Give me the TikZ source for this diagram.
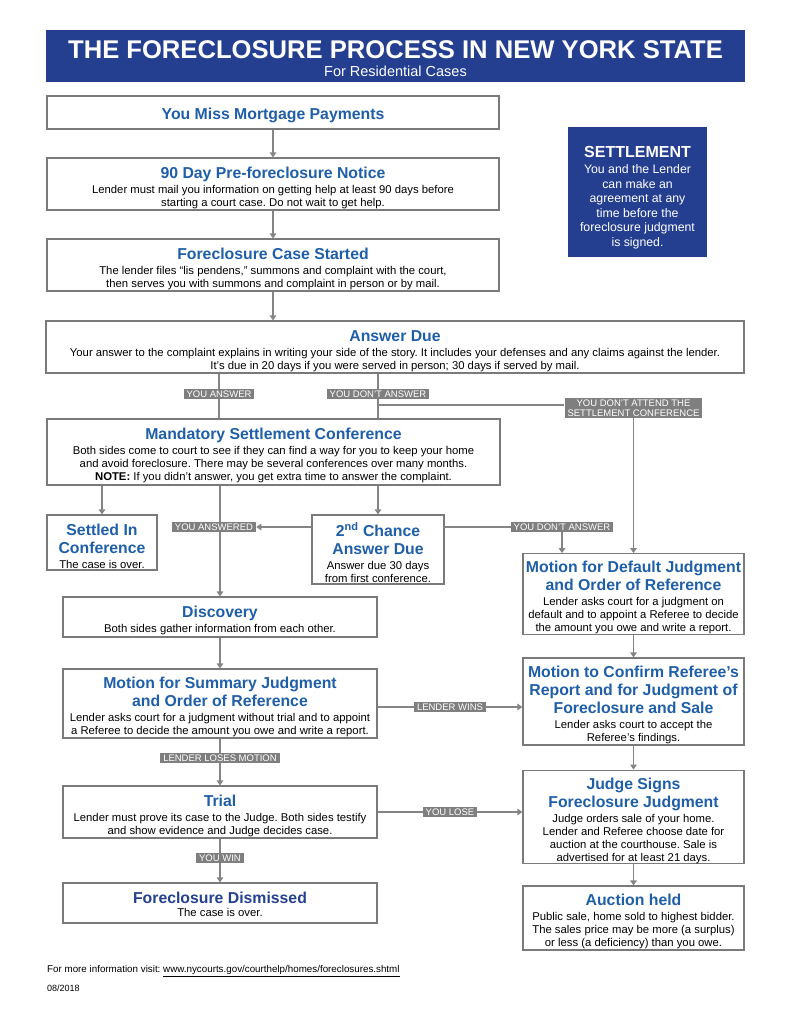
\documentclass[tikz,border=0pt]{standalone}
\usepackage{fontspec}
\setmainfont{Liberation Sans}
\newfontfamily\bodyfont{Liberation Sans}
\newfontfamily\headfont{Liberation Sans}
\usetikzlibrary{arrows.meta,backgrounds}
\definecolor{banner}{HTML}{243F8F}
\definecolor{headblue}{HTML}{1F5FA8}
\definecolor{darkblue}{HTML}{25408F}
\definecolor{bordergray}{HTML}{7A7A7A}
\definecolor{linegray}{HTML}{858585}
\definecolor{lblgray}{HTML}{7F7F7F}
\frenchspacing
\newcommand{\hd}{\headfont\bfseries\fontsize{15.8}{18}\selectfont\color{headblue}}
\newcommand{\bd}{\bodyfont\fontsize{11.3}{13}\selectfont\color{black}}
\newcommand{\bx}[2]{{\hd\rule{0pt}{19.3pt}#1\par}\vskip2pt{\bd #2\par}}
\newcommand{\fixsp}{\centering\frenchspacing\spaceskip=0pt\xspaceskip=0pt\relax}
\begin{document}
\begin{tikzpicture}[x=1pt,y=-1pt,
  box/.style={draw=bordergray, line width=1.1pt, fill=white, inner sep=0pt,
    execute at begin node=\fixsp},
  lbl/.style={fill=lblgray, text=white, inner xsep=3pt, inner ysep=1.5pt,
    font=\bodyfont\fontsize{9.5}{10.5}\selectfont, align=center},
  conn/.style={draw=linegray, line width=1.3pt},
  arr/.style={conn, -{Triangle[length=5pt,width=6.5pt]}}]
\useasboundingbox (0,0) rectangle (791,1024);

% banner
\node[fill=banner, minimum width=699pt, minimum height=52pt, inner sep=0pt, text width=699pt,
  text=white, execute at begin node=\fixsp] (banner) at (395.5,56)
  {{\headfont\bfseries\fontsize{25.6}{26}\selectfont\rule{0pt}{22.3pt}THE FORECLOSURE PROCESS IN NEW YORK STATE\par}
   {\bodyfont\fontsize{14.5}{18}\selectfont For Residential Cases\par}};

% boxes
\node[box, minimum width=452pt, minimum height=33pt, text width=452pt] (miss) at (273,112.5)
  {{\hd\rule{0pt}{17.5pt}You Miss Mortgage Payments\par}};
\node[box, minimum width=452pt, minimum height=52pt, text width=452pt] (notice) at (273,184)
  {\bx{90 Day Pre-foreclosure Notice}{Lender must mail you information on getting help at least 90 days before\\starting a court case. Do not wait to get help.}};
\node[box, minimum width=452pt, minimum height=52pt, text width=452pt] (started) at (273,265)
  {\bx{Foreclosure Case Started}{The lender files “lis pendens,” summons and complaint with the court,\\then serves you with summons and complaint in person or by mail.}};
\node[box, minimum width=698pt, minimum height=52pt, text width=698pt] (answer) at (395,347)
  {\bx{Answer Due}{Your answer to the complaint explains in writing your side of the story. It includes your defenses and any claims against the lender.\\It’s due in 20 days if you were served in person; 30 days if served by mail.}};
\node[fill=banner, minimum width=139pt, minimum height=130pt, inner sep=0pt, text width=139pt,
  text=white, execute at begin node=\fixsp] (settle) at (637.5,192)
  {{\headfont\bfseries\fontsize{16}{18}\selectfont\rule{0pt}{21.6pt}SETTLEMENT\par}\vskip2pt
   {\bodyfont\fontsize{12.3}{14.5}\selectfont You and the Lender\\can make an\\agreement at any\\time before the\\foreclosure judgment\\is signed.\par}};
\node[box, minimum width=453pt, minimum height=66pt, text width=453pt] (msc) at (273.5,452)
  {\bx{Mandatory Settlement Conference}{Both sides come to court to see if they can find a way for you to keep your home\\and avoid foreclosure. There may be several conferences over many months.\\\textbf{NOTE:} If you didn’t answer, you get extra time to answer the complaint.}};
\node[box, minimum width=110pt, minimum height=55pt, text width=110pt] (settled) at (102,542.5)
  {\bx{Settled In\\Conference}{The case is over.}};
\node[box, minimum width=132pt, minimum height=69pt, text width=132pt] (second) at (378,549.5)
  {\bx{2\textsuperscript{nd} Chance\\Answer Due}{Answer due 30 days\\from first conference.}};
\node[box, minimum width=221pt, minimum height=80pt, text width=221pt] (default) at (633.5,594)
  {\bx{Motion for Default Judgment\\and Order of Reference}{Lender asks court for a judgment on\\default and to appoint a Referee to decide\\the amount you owe and write a report.}};
\node[box, minimum width=221pt, minimum height=87pt, text width=221pt] (confirm) at (633.5,701.5)
  {\bx{Motion to Confirm Referee’s\\Report and for Judgment of\\Foreclosure and Sale}{Lender asks court to accept the\\Referee’s findings.}};
\node[box, minimum width=221pt, minimum height=92pt, text width=221pt] (judge) at (633.5,817)
  {\bx{Judge Signs\\Foreclosure Judgment}{Judge orders sale of your home.\\Lender and Referee choose date for\\auction at the courthouse. Sale is\\advertised for at least 21 days.}};
\node[box, minimum width=221pt, minimum height=64pt, text width=221pt] (auction) at (633.5,918)
  {\bx{Auction held}{Public sale, home sold to highest bidder.\\The sales price may be more (a surplus)\\or less (a deficiency) than you owe.}};
\node[box, minimum width=314pt, minimum height=40pt, text width=314pt] (discovery) at (220,617)
  {\bx{Discovery}{Both sides gather information from each other.}};
\node[box, minimum width=314pt, minimum height=69pt, text width=314pt] (summary) at (220,703.5)
  {\bx{Motion for Summary Judgment\\and Order of Reference}{Lender asks court for a judgment without trial and to appoint\\a Referee to decide the amount you owe and write a report.}};
\node[box, minimum width=314pt, minimum height=52pt, text width=314pt] (trial) at (220,812)
  {\bx{Trial}{Lender must prove its case to the Judge. Both sides testify\\and show evidence and Judge decides case.}};
\node[box, minimum width=314pt, minimum height=40pt, text width=314pt] (dismissed) at (220,903)
  {{\headfont\bfseries\fontsize{15.8}{18}\selectfont\color{darkblue}\rule{0pt}{13.5pt}Foreclosure Dismissed\par}{\bd The case is over.\par}};

% labels
\node[lbl] (lA) at (219,394) {YOU ANSWER};
\node[lbl] (lB) at (378,394) {YOU DON’T ANSWER};
\node[lbl] (lC) at (633.5,408) {YOU DON’T ATTEND THE\\SETTLEMENT CONFERENCE};
\node[lbl] (lD) at (214,527) {YOU ANSWERED};
\node[lbl] (lE) at (562,527) {YOU DON’T ANSWER};
\node[lbl] (lF) at (450,707) {LENDER WINS};
\node[lbl] (lG) at (220,758) {LENDER LOSES MOTION};
\node[lbl] (lH) at (450,812) {YOU LOSE};
\node[lbl] (lI) at (220,858) {YOU WIN};
\coordinate (j1) at (378,405);

% connectors
\begin{scope}[on background layer]
\draw[arr] (miss.south) -- (notice.north);
\draw[arr] (notice.south) -- (started.north);
\draw[arr] (started.south) -- (started.south |- answer.north);
\draw[conn] (answer.south -| lA) -- (msc.north -| lA);
\draw[conn] (answer.south -| lB) -- (msc.north -| lB);
\draw[conn] (j1) -- (lC.west |- j1);
\draw[arr] (lC.south) -- (lC |- default.north);
\draw[arr] (msc.south -| settled) -- (settled.north);
\draw[arr] (msc.south -| second) -- (second.north);
\draw[arr] (msc.south -| discovery) -- (discovery.north);
\draw[arr] (second.west |- lD) -- (lD.east);
\draw[conn] (second.east |- lE) -- (lE.west);
\draw[arr] (lE.south) -- (lE |- default.north);
\draw[arr] (default.south) -- (confirm.north);
\draw[arr] (confirm.south) -- (judge.north);
\draw[arr] (judge.south) -- (auction.north);
\draw[arr] (discovery.south) -- (summary.north);
\draw[arr] (summary.east |- lF) -- (confirm.west |- lF);
\draw[arr] (summary.south) -- (trial.north);
\draw[arr] (trial.east |- lH) -- (judge.west |- lH);
\draw[arr] (trial.south) -- (dismissed.north);
\end{scope}

% footer
\node[anchor=west, inner sep=0pt, font=\bodyfont\fontsize{9.8}{11}\selectfont] (foot) at (47,971)
  {For more information visit: \underline{www.nycourts.gov/courthelp/homes/foreclosures.shtml}};
\node[anchor=west, inner sep=0pt, font=\bodyfont\fontsize{9}{10}\selectfont] (date) at (47,988) {08/2018};
\end{tikzpicture}
\end{document}
